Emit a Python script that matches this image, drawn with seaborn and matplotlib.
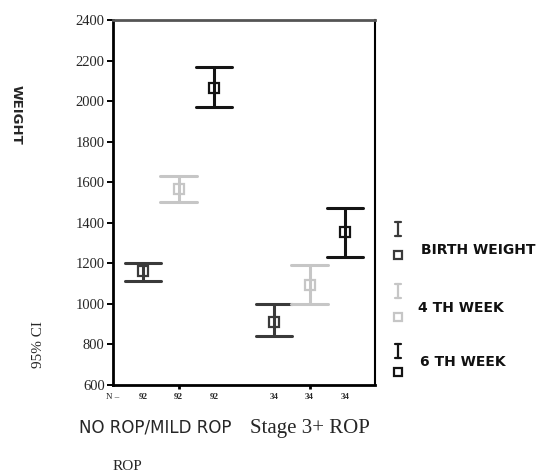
import numpy as np
import pandas as pd
import matplotlib
matplotlib.use("Agg")
import matplotlib.pyplot as plt
import matplotlib.transforms as mtransforms
from matplotlib.lines import Line2D
import seaborn as sns

# chart values
groups = ["NO ROP/MILD ROP", "Stage 3+ ROP"]
series = ["BIRTH WEIGHT", "4 TH WEEK", "6 TH WEEK"]
n_cases = [92, 34]

birth_mean = [1160, 910]
birth_lo = [1115, 840]
birth_hi = [1200, 1000]

week4_mean = [1565, 1095]
week4_lo = [1500, 1000]
week4_hi = [1630, 1190]

week6_mean = [2065, 1355]
week6_lo = [1970, 1230]
week6_hi = [2170, 1475]

y_ticks = [600, 800, 1000, 1200, 1400, 1600, 1800, 2000, 2200, 2400]

colors = {"BIRTH WEIGHT": "#3a3a3a", "4 TH WEEK": "#c6c6c6", "6 TH WEEK": "#141414"}

# long table: lower / mean / upper per point, so median = mean and 100% interval = CI
rows = []
for name, m, lo, hi in [("BIRTH WEIGHT", birth_mean, birth_lo, birth_hi),
                        ("4 TH WEEK", week4_mean, week4_lo, week4_hi),
                        ("6 TH WEEK", week6_mean, week6_lo, week6_hi)]:
    for i, g in enumerate(groups):
        for v in (lo[i], m[i], hi[i]):
            rows.append({"group": g, "series": name, "value": v})
df = pd.DataFrame(rows)

sns.set_theme(style="ticks")
plt.rcParams["font.family"] = ["DejaVu Sans"]

W, H = 543, 476
fig = plt.figure(figsize=(W / 100, H / 100), dpi=100)
ax = fig.add_axes([113 / W, 1 - 385 / H, (375 - 113) / W, (385 - 20) / H])

sns.pointplot(data=df, x="group", y="value", hue="series", order=groups,
              hue_order=series, palette=colors, estimator="median",
              errorbar=("pi", 100), dodge=0.54, markers="s", linestyle="none",
              capsize=0.28, markersize=7, markerfacecolor="none",
              markeredgewidth=1.6, err_kws={"linewidth": 2.2},
              legend=False, ax=ax)

ax.set_ylim(600, 2400)
ax.set_xlim(-0.5, 1.5)
ax.set_yticks(y_ticks)
ax.set_yticklabels([str(t) for t in y_ticks], family="Liberation Serif",
                   fontsize=10.5)
ax.set_xticks(range(len(groups)))
ax.set_xticklabels(["", ""])
ax.set_xlabel("")
ax.set_ylabel("")
ax.tick_params(axis="y", length=4, width=1.4, color="black", pad=2)
ax.tick_params(axis="x", length=3, width=2, color="black")
for side in ["left", "bottom"]:
    ax.spines[side].set_linewidth(2)
    ax.spines[side].set_color("black")
ax.spines["top"].set_linewidth(2)
ax.spines["top"].set_color("#555555")
ax.spines["right"].set_linewidth(1.5)
ax.spines["right"].set_color("black")

# N labels under each point
trans = mtransforms.blended_transform_factory(ax.transData, ax.transAxes)
for ln in ax.lines:
    if ln.get_marker() == "s":
        for x, n in zip(ln.get_xdata(), n_cases):
            ax.text(x, -0.033, str(n), transform=trans, ha="center",
                    va="center", fontsize=6.5, family="Liberation Serif",
                    fontweight="bold")
ax.text(-0.5, -0.033, "N –", transform=trans, ha="center", va="center",
        fontsize=6.5, family="Liberation Serif")


def px(x, y):
    return x / W, 1 - y / H


# category labels and axis titles
fig.text(*px(79, 428), groups[0], ha="left", va="center", fontsize=12)
fig.text(*px(310, 428), groups[1], ha="center", va="center", fontsize=15,
         family="Liberation Serif")
fig.text(*px(113, 466), "ROP", ha="left", va="center", fontsize=11,
         family="Liberation Serif")
fig.text(*px(16, 115), "WEIGHT", ha="center", va="center", rotation=-90,
         fontsize=9.5, fontweight="bold")
fig.text(*px(38, 345), "95% CI", ha="center", va="center", rotation=90,
         fontsize=11, family="Liberation Serif")

# legend
legend_pos = [(222, 236, 255, 250, 421), (284, 298, 317, 308, 418),
              (344, 358, 372, 362, 420)]
for name, (t, b, sq, ty, tx) in zip(series, legend_pos):
    c = colors[name]
    xc = 398
    fig.add_artist(Line2D([xc / W, xc / W], [1 - t / H, 1 - b / H], color=c, lw=1.6))
    for yy in (t, b):
        fig.add_artist(Line2D([(xc - 3) / W, (xc + 3) / W], [1 - yy / H, 1 - yy / H],
                              color=c, lw=1.6))
    fig.add_artist(Line2D([xc / W], [1 - sq / H], marker="s", markersize=6,
                          markerfacecolor="none", markeredgecolor=c,
                          markeredgewidth=1.6, linestyle="none"))
    fig.text(*px(tx, ty), name, ha="left", va="center", fontsize=10,
             fontweight="bold", color="#111111")

fig.savefig("out.png", dpi=100)
